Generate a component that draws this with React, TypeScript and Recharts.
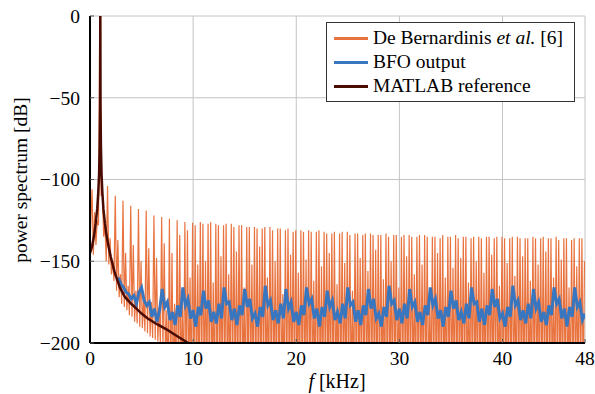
import React from 'react';
import { LineChart, Line, XAxis, YAxis, CartesianGrid } from 'recharts';

// ---- axis ticks ----
const xTicks = [0, 10, 20, 30, 40, 48];
const yTicks = [-200, -150, -100, -50, 0];

// ---- De Bernardinis et al. [6] (orange): spectral bins, peak level per bin (dB) ----
const orangeStart = 0.2; // kHz, first bin
const orangeStep = 0.25; // kHz between bins
const orangeFirst = -140; // value at f = 0
const orangePeaks = [
  -106, -120, -125, 5, -108, -128,
  -104, -136, -150, -110, -137, -158, -113, -145, -165, -116, -140, -168,
  -118, -150, -172, -119, -142, -175, -122, -148, -178, -123, -139, -180,
  -124, -145, -176, -125, -134, -170, -126, -131, -160, -126.5, -128, -152,
  -126, -127, -150, -127, -126, -163, -127, -128, -147, -128, -127, -158,
  -127, -129, -144, -128, -128, -166, -129, -129, -152, -129, -130, -141,
  -130, -129, -160, -129, -131, -150, -130, -130, -170, -131, -130, -146,
  -132, -131, -157, -131, -132, -149, -131, -132, -162, -132, -131, -153,
  -132, -133, -145, -133, -132, -164, -133, -132, -151, -132, -134, -168,
  -133, -133, -148, -134, -133, -156, -133, -134, -143, -134, -134, -161,
  -133, -135, -150, -134, -134, -166, -135, -134, -147, -134, -135, -158,
  -135, -134, -152, -134, -135, -169, -135, -135, -145, -136, -134, -160,
  -135, -135, -154, -134, -136, -148, -135, -135, -163, -136, -135, -150,
  -135, -136, -157, -135, -135, -146, -136, -135, -165, -135, -136, -151,
  -136, -135, -159, -135, -136, -147, -136, -136, -162, -135, -136, -152,
  -136, -135, -144, -136, -136, -160, -135, -137, -149, -136, -136, -166,
  -137, -136, -153, -136, -136, -150,
];
// level between bin i and bin i+1 (dB); beyond this list the trace drops below the axis
const orangeTroughs = [
  -146, -140, -128, -110, -135, -150, -152, -158, -162, -168,
  -172, -176, -178, -180, -183, -184, -187, -188, -190, -191,
  -193, -194, -196, -197, -198, -199, -201, -204, -210,
];
const orangeFloor = -230;

// ---- BFO output (blue) ----
const blueStart = 2.75; // kHz
const blueStep = 0.25; // kHz
const blueValues = [
  -160, -164, -166, -169, -170, -173, -171, -176, -169, -166, -174, -177, -175, -184, -179, -187, -180,
  -167, -178, -175, -186, -181, -189, -177, -184,
  -166, -177, -173, -185, -180, -190, -178, -183,
  -168, -179, -174, -187, -181, -188, -176, -185,
  -166, -176, -175, -186, -179, -189, -177, -183,
  -167, -178, -173, -185, -182, -190, -178, -184,
  -165, -177, -174, -186, -180, -188, -176, -185,
  -167, -179, -175, -187, -181, -189, -177, -183,
  -166, -176, -173, -185, -179, -190, -178, -184,
  -168, -178, -174, -186, -181, -188, -176, -185,
  -166, -177, -175, -187, -180, -189, -177, -183,
  -167, -179, -173, -185, -182, -190, -178, -184,
  -165, -176, -174, -186, -179, -188, -176, -185,
  -167, -178, -175, -187, -181, -189, -177, -183,
  -166, -177, -173, -185, -180, -190, -178, -184,
  -168, -179, -174, -186, -181, -188, -176, -185,
  -166, -176, -175, -187, -179, -189, -177, -183,
  -167, -178, -173, -185, -182, -190, -178, -184,
  -165, -177, -174, -186, -180, -188, -176, -185,
  -167, -179, -175, -187, -181, -189, -177, -183,
  -166, -176, -173, -185, -179, -190, -178, -184,
  -166, -178, -175, -186, -182,
];

// ---- MATLAB reference (dark) ----
const matlabFreq = [
  0, 0.2, 0.4, 0.55, 0.7, 0.8, 0.88, 0.94, 0.98, 1.0, 1.02, 1.06, 1.12, 1.2, 1.3, 1.45,
  1.6, 1.8, 2.0, 2.4, 2.9, 3.4, 4.0, 4.5, 5.0, 5.6, 6.5, 7.5, 8.5, 9.4, 10.0, 11.0,
];
const matlabDb = [
  -145, -141, -134, -127, -118, -108, -97, -80, -55, 10, -55, -80, -97, -108, -118, -127,
  -134, -141, -147, -157, -166, -172, -176, -179, -182, -185, -188.5, -192, -196, -199.5, -202, -206,
];

// ---- build series tables ----
const orangeData: { x: number; y: number }[] = [{ x: 0, y: orangeFirst }];
orangePeaks.forEach((p, i) => {
  const f = orangeStart + i * orangeStep;
  orangeData.push({ x: f, y: p });
  if (i < orangePeaks.length - 1) {
    const t = i < orangeTroughs.length ? orangeTroughs[i] : orangeFloor;
    orangeData.push({ x: f + orangeStep / 2, y: t });
  }
});
const blueData = blueValues.map((v, i) => ({ x: blueStart + i * blueStep, y: v }));
const matlabData = matlabFreq.map((f, i) => ({ x: f, y: matlabDb[i] }));

const ORANGE = '#E9733F';
const BLUE = '#3876C0';
const DARK = '#4A0B02';
const FONT = '"Liberation Serif", "Times New Roman", serif';

const fmtY = (v: number) => (v < 0 ? '\u2212' + Math.abs(v) : String(v));

const legendItems = [
  { color: ORANGE, label: <>De Bernardinis <i>et al.</i> [6]</> },
  { color: BLUE, label: <>BFO output</> },
  { color: DARK, label: <>MATLAB reference</> },
];

export default function App() {
  const tickStyle = { fill: '#000', fontSize: 19.5, fontFamily: FONT };
  return (
    <div style={{ position: 'absolute', left: 0, top: 0, width: 595, height: 394, background: '#fff', fontFamily: FONT, color: '#000' }}>
      <LineChart width={595} height={394} margin={{ top: 16, right: 10, bottom: 0, left: 0 }}>
        <CartesianGrid stroke="#c4c4c4" strokeWidth={1} />
        <XAxis
          type="number"
          dataKey="x"
          domain={[0, 48]}
          ticks={xTicks}
          interval={0}
          allowDataOverflow
          height={51}
          tickSize={-4}
          tickMargin={12}
          tick={tickStyle}
          tickLine={{ stroke: '#555' }}
          axisLine={{ stroke: '#000', strokeWidth: 2 }}
        />
        <XAxis
          xAxisId="top"
          orientation="top"
          type="number"
          dataKey="x"
          domain={[0, 48]}
          ticks={xTicks}
          interval={0}
          height={0}
          tickSize={-4}
          tickFormatter={() => ''}
          tickLine={{ stroke: '#555' }}
          axisLine={{ stroke: '#000', strokeWidth: 2 }}
        />
        <YAxis
          type="number"
          domain={[-200, 0]}
          ticks={yTicks}
          interval={0}
          allowDataOverflow
          width={90}
          tickSize={-4}
          tickMargin={14}
          tick={tickStyle}
          tickFormatter={fmtY}
          tickLine={{ stroke: '#555' }}
          axisLine={{ stroke: '#000', strokeWidth: 2 }}
        />
        <YAxis
          yAxisId="right"
          orientation="right"
          type="number"
          domain={[-200, 0]}
          ticks={yTicks}
          interval={0}
          width={0}
          tickSize={-4}
          tickFormatter={() => ''}
          tickLine={{ stroke: '#555' }}
          axisLine={{ stroke: '#000', strokeWidth: 2 }}
        />
        <Line data={orangeData} dataKey="y" type="linear" stroke={ORANGE} strokeWidth={1.2} dot={false} activeDot={false} isAnimationActive={false} />
        <Line data={blueData} dataKey="y" type="linear" stroke={BLUE} strokeWidth={3} strokeLinejoin="miter" dot={false} activeDot={false} isAnimationActive={false} />
        <Line data={matlabData} dataKey="y" type="linear" stroke={DARK} strokeWidth={2.5} dot={false} activeDot={false} isAnimationActive={false} />
      </LineChart>

      {/* axis titles */}
      <div style={{ position: 'absolute', left: 20, top: 180, transform: 'translate(-50%, -50%) rotate(-90deg)', whiteSpace: 'nowrap', fontSize: 19.5, lineHeight: '19px' }}>
        power spectrum [dB]
      </div>
      <div style={{ position: 'absolute', left: 337, top: 372, transform: 'translateX(-50%)', whiteSpace: 'nowrap', fontSize: 20, lineHeight: '19px' }}>
        <i>f</i>&nbsp;[kHz]
      </div>

      {/* legend */}
      <div style={{ position: 'absolute', left: 326, top: 22, width: 249, height: 80, boxSizing: 'border-box', border: '1px solid #333', background: '#fff' }} />
      {legendItems.map((it, i) => {
        const ly = 38 + 24 * i;
        return (
          <React.Fragment key={i}>
            <div style={{ position: 'absolute', left: 334, top: ly - 1.5, width: 34, height: 3, background: it.color }} />
            <div style={{ position: 'absolute', left: 373, top: ly - 12, height: 24, lineHeight: '24px', fontSize: 19.5, whiteSpace: 'nowrap' }}>
              {it.label}
            </div>
          </React.Fragment>
        );
      })}
    </div>
  );
}
